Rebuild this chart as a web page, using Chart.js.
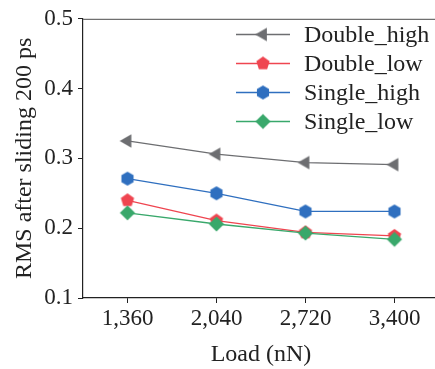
<!DOCTYPE html>
<html>
<head>
<meta charset="utf-8">
<script src="https://cdn.jsdelivr.net/npm/chart.js@4/dist/chart.umd.min.js"></script>
<style>
html, body { margin: 0; padding: 0; overflow: hidden; background: #fff; }
#wrap { width: 439px; height: 369px; }
canvas { display: block; width: 439px; height: 369px; }
</style>
</head>
<body>
<div id="wrap"><canvas id="c" width="439" height="369" style="width:439px;height:369px"></canvas></div>
<script>
const categories = ['1,360', '2,040', '2,720', '3,400'];
const seriesNames = ['Double_high', 'Double_low', 'Single_high', 'Single_low'];
const doubleHigh = [0.325, 0.306, 0.294, 0.291];
const doubleLow = [0.240, 0.211, 0.194, 0.189];
const singleHigh = [0.271, 0.250, 0.224, 0.224];
const singleLow = [0.222, 0.206, 0.193, 0.184];
const yTicks = [0.1, 0.2, 0.3, 0.4, 0.5];

const colors = ['#6d6e71', '#ef4550', '#2f6fbf', '#39a86b'];
const FONT = '"Liberation Serif", "Times New Roman", serif';

function makeMarker(kind, color) {
  const s = 18;
  const cv = document.createElement('canvas');
  cv.width = s; cv.height = s;
  const ctx = cv.getContext('2d');
  const cx = s / 2, cy = s / 2;
  ctx.fillStyle = color;
  ctx.beginPath();
  let n, r, start;
  if (kind === 'triLeft') { n = 3; r = 7.8; start = Math.PI; }
  else if (kind === 'pentagon') { n = 5; r = 7.0; start = -Math.PI / 2; }
  else if (kind === 'hexagon') { n = 6; r = 7.0; start = -Math.PI / 2; }
  else { n = 4; r = 7.6; start = -Math.PI / 2; }
  for (let i = 0; i < n; i++) {
    const a = start + i * 2 * Math.PI / n;
    const x = cx + r * Math.cos(a), y = cy + r * Math.sin(a);
    if (i === 0) ctx.moveTo(x, y); else ctx.lineTo(x, y);
  }
  ctx.closePath();
  ctx.fill();
  return cv;
}
const markers = [
  makeMarker('triLeft', colors[0]),
  makeMarker('pentagon', colors[1]),
  makeMarker('hexagon', colors[2]),
  makeMarker('diamond', colors[3])
];
const seriesData = [doubleHigh, doubleLow, singleHigh, singleLow];
const orders = [3, 2, 1, 0];

const datasets = seriesNames.map((name, i) => ({
  label: name,
  data: seriesData[i],
  borderColor: colors[i],
  backgroundColor: colors[i],
  borderWidth: 1.3,
  pointStyle: markers[i],
  pointRadius: 8,
  pointHoverRadius: 8,
  tension: 0,
  fill: false,
  order: orders[i]
}));

const frameAndLegend = {
  id: 'frameAndLegend',
  afterDraw(chart) {
    const ctx = chart.ctx;
    const a = chart.chartArea;
    ctx.save();
    ctx.strokeStyle = '#6f6f6f';
    ctx.lineWidth = 1.2;
    ctx.beginPath();
    ctx.moveTo(a.left, a.top + 0.5);
    ctx.lineTo(a.right, a.top + 0.5);
    ctx.stroke();
    const rows = [34.5, 63.5, 92.5, 121.5];
    ctx.font = '24px ' + FONT;
    ctx.textBaseline = 'middle';
    ctx.textAlign = 'left';
    chart.data.datasets.forEach((ds, i) => {
      const y = rows[i];
      ctx.strokeStyle = ds.borderColor;
      ctx.lineWidth = 1.3;
      ctx.beginPath();
      ctx.moveTo(236, y);
      ctx.lineTo(290, y);
      ctx.stroke();
      const m = ds.pointStyle;
      ctx.drawImage(m, 263 - m.width / 2, y - m.height / 2);
      ctx.fillStyle = '#222';
      ctx.fillText(ds.label, 304, y + 1);
    });
    ctx.restore();
  }
};

new Chart(document.getElementById('c'), {
  type: 'line',
  data: { labels: categories, datasets },
  options: {
    responsive: false,
    animation: false,
    devicePixelRatio: 1,
    layout: { autoPadding: false, padding: { top: 18, right: 0, left: 0, bottom: 0 } },
    plugins: { legend: { display: false }, tooltip: { enabled: false } },
    scales: {
      x: {
        type: 'category',
        offset: true,
        grid: { display: true, drawOnChartArea: false, drawTicks: true, tickLength: 5, color: '#222', lineWidth: 1 },
        border: { display: true, color: '#222', width: 1.2 },
        ticks: { color: '#222', font: { family: FONT, size: 23 }, padding: 2, maxRotation: 0, autoSkip: false },
        title: { display: true, text: 'Load (nN)', color: '#222', font: { family: FONT, size: 24 }, padding: { top: 0, bottom: 0 } },
        afterFit(scale) { scale.height = 71; }
      },
      y: {
        min: 0.1,
        max: 0.5,
        afterBuildTicks(scale) { scale.ticks = yTicks.map(v => ({ value: v })); },
        grid: { display: true, drawOnChartArea: false, drawTicks: true, tickLength: 5, color: '#222', lineWidth: 1 },
        border: { display: true, color: '#222', width: 1.2 },
        ticks: { color: '#222', font: { family: FONT, size: 23 }, padding: 5, callback: v => Number(v).toFixed(1) },
        title: { display: true, text: 'RMS after sliding 200 ps', color: '#222', font: { family: FONT, size: 24 }, padding: { top: 10, bottom: 0 } },
        afterFit(scale) { scale.width = 83; }
      }
    }
  },
  plugins: [frameAndLegend]
});
</script>
</body>
</html>
